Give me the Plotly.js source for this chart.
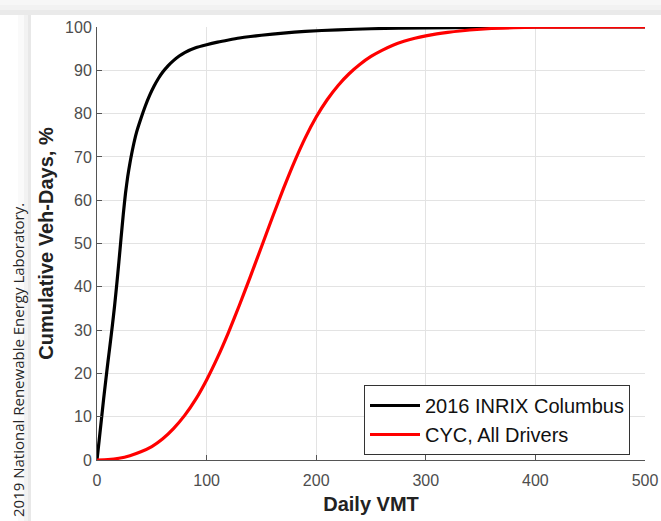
<!DOCTYPE html>
<html>
<head>
<meta charset="utf-8">
<script src="https://cdn.plot.ly/plotly-3.0.1.min.js"></script>
<style>html,body{margin:0;padding:0;background:#fff;}#chart{width:661px;height:521px;}</style>
</head>
<body>
<div id="chart"></div>
<script>
// 2016 INRIX Columbus cumulative distribution (Daily VMT -> %)
const inrixX = [0, 2, 4, 6, 8, 10, 12, 14, 16, 18, 20, 22, 24, 26, 28, 30, 33, 36, 40, 44, 48, 52, 56, 60, 65, 70, 75, 80, 90, 100, 110, 120, 130, 140, 150, 170, 190, 220, 250, 300, 350, 400, 450, 500];
const inrixY = [0, 4.6, 9.3, 14, 18.4, 22.7, 26.8, 31, 35.5, 40.5, 45.8, 51.4, 56.8, 61.6, 65.4, 68.5, 72.4, 75.6, 78.8, 81.7, 84.2, 86.3, 88.1, 89.6, 91.1, 92.3, 93.3, 94.1, 95.2, 95.9, 96.5, 97.0, 97.45, 97.8, 98.1, 98.6, 99.0, 99.35, 99.6, 99.8, 99.92, 100, 100, 100];
// CYC, All Drivers
const cycX = [0, 10, 20, 30, 40, 50, 60, 70, 80, 90, 100, 110, 120, 130, 140, 150, 160, 170, 180, 190, 200, 210, 220, 230, 240, 250, 260, 270, 280, 290, 300, 310, 320, 340, 360, 380, 400, 450, 500];
const cycY = [0, 0.1, 0.4, 1.0, 1.9, 3.1, 4.9, 7.3, 10.3, 14.0, 18.5, 23.7, 29.5, 35.8, 42.4, 49.2, 56.0, 62.6, 68.8, 74.4, 79.2, 83.2, 86.5, 89.2, 91.4, 93.2, 94.6, 95.8, 96.7, 97.4, 97.95, 98.4, 98.75, 99.3, 99.65, 99.85, 99.95, 100, 100];
const seriesNames = ["2016 INRIX Columbus", "CYC, All Drivers"];
const xTicks = [0, 100, 200, 300, 400, 500];
const yTicks = [0, 10, 20, 30, 40, 50, 60, 70, 80, 90, 100];

const traces = [
  {x: inrixX, y: inrixY, name: seriesNames[0], mode: "lines", line: {color: "#000000", width: 3.2, shape: "spline", smoothing: 0.5}},
  {x: cycX, y: cycY, name: seriesNames[1], mode: "lines", line: {color: "#ff0000", width: 3.2, shape: "spline", smoothing: 0.5}}
];

function px2x(px){return (px-97)/548;}
function py2y(py){return (460-py)/433;}

const shapes = [];
// top shadow band
[[0,15,0.03],[5,15,0.02],[10,15,0.03]].forEach(s=>{
  shapes.push({type:"rect", xref:"paper", yref:"paper", x0:px2x(0), x1:px2x(661), y0:py2y(s[0]), y1:py2y(s[1]), fillcolor:"rgba(0,0,0,"+s[2]+")", line:{width:0}, layer:"below"});
});
// left shadow band
[[18,31,0.02],[24,31,0.03],[28,31,0.04]].forEach(s=>{
  shapes.push({type:"rect", xref:"paper", yref:"paper", x0:px2x(s[0]), x1:px2x(s[1]), y0:py2y(15), y1:py2y(521), fillcolor:"rgba(0,0,0,"+s[2]+")", line:{width:0}, layer:"below"});
});

const layout = {
  width: 661, height: 521,
  margin: {l: 97, r: 16, t: 27, b: 61, pad: 0},
  paper_bgcolor: "#ffffff", plot_bgcolor: "#ffffff",
  font: {family: "Liberation Sans, Arial, sans-serif", color: "#4d4d4d", size: 16},
  showlegend: true,
  legend: {x: px2x(364), y: py2y(385), xanchor: "left", yanchor: "top", bgcolor: "#ffffff", bordercolor: "#333333", borderwidth: 1,
           font: {family: "Liberation Sans, Arial, sans-serif", size: 20, color: "#111111"}, tracegroupgap: 0, itemwidth: 50},
  xaxis: {range: [0, 500], tickvals: xTicks, ticktext: xTicks.map(String), ticks: "inside", ticklen: 5, tickcolor: "#555555",
          showgrid: true, gridcolor: "#e3e3e3", gridwidth: 1, zeroline: false, showline: true, linecolor: "#555555", linewidth: 1,
          tickfont: {size: 16, color: "#4d4d4d"}, ticklabelstandoff: 6,
          title: {text: "<b>Daily VMT</b>", font: {size: 20, color: "#222222"}, standoff: 8}},
  yaxis: {range: [0, 100], tickvals: yTicks, ticktext: yTicks.map(String), ticks: "inside", ticklen: 5, tickcolor: "#555555",
          showgrid: true, gridcolor: "#e3e3e3", gridwidth: 1, zeroline: false, showline: true, linecolor: "#555555", linewidth: 1,
          tickfont: {size: 16, color: "#4d4d4d"}, ticklabelstandoff: 1,
          title: {text: "<b>Cumulative Veh-Days, %</b>", font: {size: 20, color: "#222222"}, standoff: 6}},
  shapes: shapes,
  annotations: [{
    text: "2019 National Renewable Energy Laboratory.", xref: "paper", yref: "paper",
    x: px2x(18), y: py2y(519), xanchor: "center", yanchor: "bottom", textangle: -90, showarrow: false,
    font: {family: "Open Sans, sans-serif", size: 15, color: "#262626"}
  }]
};

Plotly.newPlot("chart", traces, layout, {displayModeBar: false, staticPlot: true});
</script>
</body>
</html>
